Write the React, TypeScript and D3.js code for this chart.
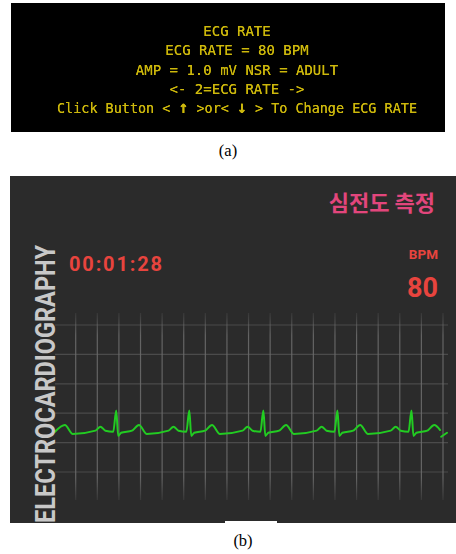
import React from "react";
import * as d3 from "d3";

// panel (a): simulator screen text
const screenLines = [
  "ECG RATE",
  "ECG RATE = 80 BPM",
  "AMP = 1.0 mV NSR = ADULT",
  "<- 2=ECG RATE ->",
];
const buttonLine = ["Click Button < ", "↑", " >or< ", "↓", " > To Change ECG RATE"];

// panel (b): monitor labels
const monitorTitle = "심전도 측정";
const elapsed = "00:01:28";
const bpmLabel = "BPM";
const bpmValue = 80;
const sideLabel = "ELECTROCARDIOGRAPHY";
const captions = ["(a)", "(b)"];

// ECG trace: time (s) and amplitude (mV)
const ecgTime = [
  0.0, 0.1, 0.18,
  0.41, 0.46, 0.51, 0.59, 0.62, 0.64, 0.67, 0.78, 0.85, 0.93,
  1.15, 1.2, 1.25, 1.33, 1.36, 1.38, 1.41, 1.52, 1.59, 1.67,
  1.9, 1.95, 2.0, 2.08, 2.11, 2.13, 2.16, 2.27, 2.34, 2.42,
  2.65, 2.7, 2.75, 2.83, 2.86, 2.88, 2.91, 3.02, 3.09, 3.17,
  3.4, 3.45, 3.5, 3.58, 3.61, 3.63, 3.66, 3.77, 3.84, 3.9,
];
const ecgMv = [
  -0.01, 0.31, -0.12,
  0.04, 0.23, 0.04, -0.01, 1.0, -0.21, -0.06, 0.04, 0.31, -0.12,
  0.04, 0.23, 0.04, -0.01, 1.0, -0.21, -0.06, 0.04, 0.31, -0.12,
  0.04, 0.23, 0.04, -0.01, 1.0, -0.21, -0.06, 0.04, 0.31, -0.12,
  0.04, 0.23, 0.04, -0.01, 1.0, -0.21, -0.06, 0.04, 0.31, -0.12,
  0.04, 0.23, 0.04, -0.01, 1.0, -0.21, -0.06, 0.04, 0.31, 0.07,
];
// new sweep starting after the erase gap
const restartTime = [3.91, 3.97];
const restartMv = [-0.25, -0.06];

const W = 456;
const H = 554;

export default function App() {
  const x = d3.scaleLinear().domain([0, 4]).range([55, 450]);
  const y = d3.scaleLinear().domain([0, 1]).range([431.5, 410.5]);
  const gridX = d3.scaleLinear().domain([0, 17]).range([75.7, 443]);
  const gridY = d3.scaleLinear().domain([0, 5]).range([325, 472]);

  const line = d3
    .line<[number, number]>()
    .x((d) => x(d[0]))
    .y((d) => y(d[1]))
    .curve(d3.curveMonotoneX);

  const trace = ecgTime.map((t, i) => [t, ecgMv[i]] as [number, number]);
  const restart = restartTime.map((t, i) => [t, restartMv[i]] as [number, number]);

  return (
    <svg
      width={W}
      height={H}
      style={{ position: "absolute", left: 0, top: 0, background: "#fff" }}
    >
      <defs>
        <linearGradient id="vfade" gradientUnits="userSpaceOnUse" x1="0" y1="313" x2="0" y2="500">
          <stop offset="0" stopColor="#6a6a6a" stopOpacity="0.2" />
          <stop offset="0.12" stopColor="#6a6a6a" stopOpacity="0.9" />
          <stop offset="0.88" stopColor="#6a6a6a" stopOpacity="0.9" />
          <stop offset="1" stopColor="#6a6a6a" stopOpacity="0.2" />
        </linearGradient>
        <filter id="glow" x="-5%" y="-20%" width="110%" height="140%">
          <feGaussianBlur stdDeviation="0.7" result="b" />
          <feMerge>
            <feMergeNode in="b" />
            <feMergeNode in="SourceGraphic" />
          </feMerge>
        </filter>
      </defs>

      {/* (a) */}
      <rect x={11} y={3} width={434} height={129} fill="#000" />
      <g
        fontFamily="'DejaVu Sans Mono', 'Liberation Mono', monospace"
        fontSize={14}
        fill="#cdb80c"
        textAnchor="middle"
        filter="url(#glow)"
      >
        {screenLines.map((s, i) => (
          <text key={i} x={237} y={36 + i * 19.3}>
            {s}
          </text>
        ))}
        <text x={237} y={36 + 4 * 19.3} textLength={360} lengthAdjust="spacingAndGlyphs">
          {buttonLine.map((s, i) =>
            i % 2 === 1 ? (
              <tspan key={i} fontSize={17} fontWeight="bold">
                {s}
              </tspan>
            ) : (
              <tspan key={i}>{s}</tspan>
            )
          )}
        </text>
      </g>
      <text x={228} y={156} textAnchor="middle" fontFamily="'Liberation Serif', serif" fontSize={16.5} fill="#000">
        {captions[0]}
      </text>

      {/* (b) */}
      <rect x={10} y={176} width={446} height={347} fill="#2b2b2b" />

      <g>
        {d3.range(6).map((i) => (
          <line key={"h" + i} x1={55} x2={448} y1={gridY(i)} y2={gridY(i)} stroke="#4b4b4b" strokeWidth={1.2} />
        ))}
        {d3.range(18).map((i) => (
          <line key={"v" + i} x1={gridX(i)} x2={gridX(i)} y1={313} y2={500} stroke="url(#vfade)" strokeWidth={1.2} />
        ))}
      </g>

      <g fill="none" stroke="#22cc22" strokeWidth={2} strokeLinejoin="round" strokeLinecap="round">
        <path d={line(trace) ?? ""} />
        <path d={line(restart) ?? ""} />
      </g>

      <text
        transform="translate(55,523) rotate(-90)"
        fontFamily="Roboto, 'Noto Sans', sans-serif"
        fontWeight="bold"
        fontSize={27}
        fill="#c8c8c8"
        textLength={278}
        lengthAdjust="spacingAndGlyphs"
      >
        {sideLabel}
      </text>

      <text
        x={435}
        y={211}
        textAnchor="end"
        fontFamily="'Noto Sans CJK KR', sans-serif"
        fontWeight="bold"
        fontSize={22}
        fill="#e2467c"
      >
        {monitorTitle}
      </text>

      <text
        x={69}
        y={271}
        fontFamily="Roboto, sans-serif"
        fontWeight="bold"
        fontSize={20}
        fill="#e8443e"
        textLength={93}
        lengthAdjust="spacing"
      >
        {elapsed}
      </text>

      <text x={438} y={259} textAnchor="end" fontFamily="Roboto, sans-serif" fontWeight="bold" fontSize={13.5} fill="#e8443e">
        {bpmLabel}
      </text>
      <text x={438} y={297} textAnchor="end" fontFamily="Roboto, sans-serif" fontWeight="bold" fontSize={27} fill="#e8443e">
        {bpmValue}
      </text>

      <rect x={225} y={521} width={52} height={3} fill="#fff" />
      <text x={243} y={546} textAnchor="middle" fontFamily="'Liberation Serif', serif" fontSize={16.5} fill="#000">
        {captions[1]}
      </text>
    </svg>
  );
}
